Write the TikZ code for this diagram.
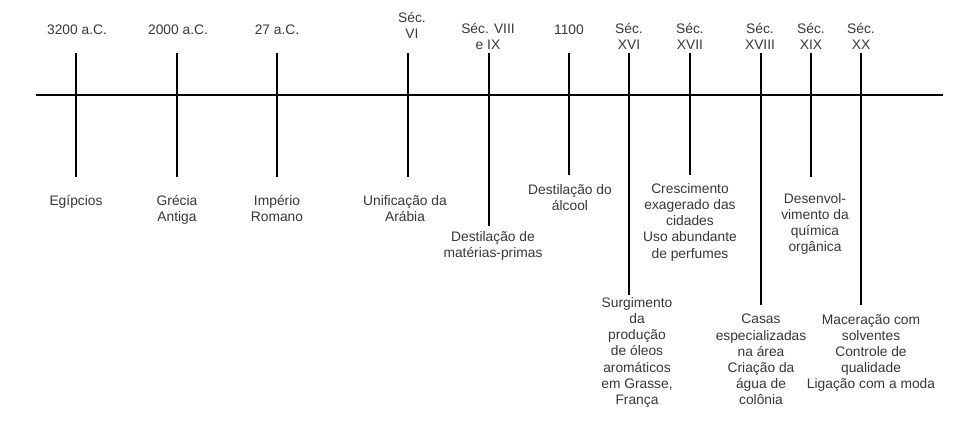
\documentclass[tikz,border=0pt]{standalone}
\usepackage{fontspec}
\setmainfont{Liberation Sans}
\usepackage{tikz}
\usetikzlibrary{positioning}
\definecolor{txt}{RGB}{55,55,55}

\begin{document}
\begin{tikzpicture}[
		x=1pt, y=-1pt,
		lbl/.style={align=center, text=txt, inner sep=0pt, font=\fontsize{13.8}{16.2}\selectfont},
		tick/.style={line width=1.8pt, black}
	]
		\useasboundingbox[fill=white] (0,0) rectangle (968,447);
		% time axis
		\coordinate (start) at (36,95);
		\coordinate (end) at (943,95);
		\draw[tick] (start) -- (end);
		% dates above the axis
		\node[lbl, anchor=south] (d1) at (77,35) {3200 a.C.};
		\node[lbl, anchor=south] (d2) at (178,35) {2000 a.C.};
		\node[lbl, anchor=south] (d3) at (277,35) {27 a.C.};
		\node[lbl, anchor=south] (d4) at (412,39) {Séc.\\VI};
		\node[lbl, anchor=south] (d5) at (488,50) {Séc. VIII\\e IX};
		\node[lbl, anchor=south] (d6) at (569,35) {1100};
		\node[lbl, anchor=south] (d7) at (629,50) {Séc.\\XVI};
		\node[lbl, anchor=south] (d8) at (690,50) {Séc.\\XVII};
		\node[lbl, anchor=south] (d9) at (760,50) {Séc.\\XVIII};
		\node[lbl, anchor=south] (d10) at (811,50) {Séc.\\XIX};
		\node[lbl, anchor=south] (d11) at (861,50) {Séc.\\XX};
		% events below the axis
		\node[lbl, anchor=north] (e1) at (76,195) {Egípcios};
		\node[lbl, anchor=north] (e2) at (177,195) {Grécia\\Antiga};
		\node[lbl, anchor=north] (e3) at (277,195) {Império\\Romano};
		\node[lbl, anchor=north] (e4) at (405,195) {Unificação da\\Arábia};
		\node[lbl, anchor=north] (e5) at (493,231) {Destilação de\\matérias-primas};
		\node[lbl, anchor=north] (e6) at (570,184) {Destilação do\\álcool};
		\node[lbl, anchor=north] (e7) at (637,297) {Surgimento\\da\\produção\\de óleos\\aromáticos\\em Grasse,\\França};
		\node[lbl, anchor=north] (e8) at (690,183) {Crescimento\\exagerado das\\cidades\\Uso abundante\\de perfumes};
		\node[lbl, anchor=north] (e9) at (761,314) {Casas\\especializadas\\na área\\Criação da\\água de\\colônia};
		\node[lbl, anchor=north] (e10) at (815,193) {Desenvol-\\vimento da\\química\\orgânica};
		\node[lbl, anchor=north] (e11) at (871,314) {Maceração com\\solventes\\Controle de\\qualidade\\Ligação com a moda};
		% ticks
		\coordinate (a1) at (76,53);   \coordinate (b1) at (76,177);
		\coordinate (a2) at (177,53);  \coordinate (b2) at (177,177);
		\coordinate (a3) at (277,53);  \coordinate (b3) at (277,177);
		\coordinate (a4) at (408,53);  \coordinate (b4) at (408,177);
		\coordinate (a5) at (489,53);  \coordinate (b5) at (489,226);
		\coordinate (a6) at (569,53);  \coordinate (b6) at (569,175);
		\coordinate (a7) at (629,53);  \coordinate (b7) at (629,295);
		\coordinate (a8) at (690,53);  \coordinate (b8) at (690,175);
		\coordinate (a9) at (761,53);  \coordinate (b9) at (761,305);
		\coordinate (a10) at (811,53); \coordinate (b10) at (811,177);
		\coordinate (a11) at (861,53); \coordinate (b11) at (861,305);
		\draw[tick] (a1) -- (b1);
		\draw[tick] (a2) -- (b2);
		\draw[tick] (a3) -- (b3);
		\draw[tick] (a4) -- (b4);
		\draw[tick] (a5) -- (b5);
		\draw[tick] (a6) -- (b6);
		\draw[tick] (a7) -- (b7);
		\draw[tick] (a8) -- (b8);
		\draw[tick] (a9) -- (b9);
		\draw[tick] (a10) -- (b10);
		\draw[tick] (a11) -- (b11);
	\end{tikzpicture}
\end{document}
